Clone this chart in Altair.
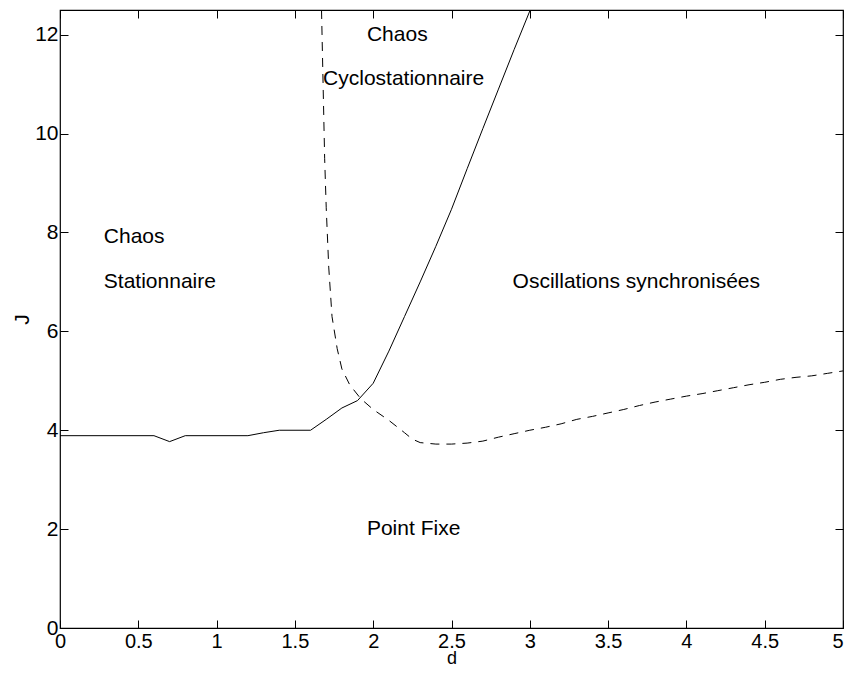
import altair as alt
import pandas as pd

# Solid boundary
solid_d = [0.0, 0.6, 0.7, 0.8, 1.2, 1.3, 1.4, 1.6, 1.7, 1.8, 1.9, 2.0, 2.1, 2.2,
           2.3, 2.4, 2.5, 2.6, 2.7, 2.8, 2.9, 3.0]
solid_J = [3.89, 3.89, 3.77, 3.89, 3.89, 3.95, 4.0, 4.0, 4.22, 4.45, 4.6, 4.95,
           5.6, 6.3, 7.0, 7.72, 8.47, 9.29, 10.1, 10.9, 11.7, 12.48]

# Dashed boundary
dashed_d = [1.67, 1.68, 1.69, 1.70, 1.716, 1.737, 1.77, 1.80, 1.85, 1.92, 2.0,
            2.1, 2.2, 2.25, 2.3, 2.4, 2.5, 2.6, 2.7, 2.8, 2.9, 3.0, 3.1, 3.2,
            3.3, 3.4, 3.5, 3.6, 3.7, 3.8, 3.9, 4.0, 4.1, 4.2, 4.3, 4.4, 4.5,
            4.6, 4.7, 4.8, 4.9, 5.0]
dashed_J = [12.5, 11.0, 9.5, 8.5, 7.3, 6.3, 5.65, 5.24, 4.92, 4.64, 4.42,
            4.2, 3.95, 3.82, 3.75, 3.72, 3.72, 3.74, 3.78, 3.86, 3.93, 4.0,
            4.06, 4.13, 4.22, 4.28, 4.35, 4.42, 4.5, 4.57, 4.63, 4.69, 4.74,
            4.8, 4.86, 4.92, 4.97, 5.03, 5.07, 5.1, 5.15, 5.2]

# Region labels
text_labels = ["Chaos", "Stationnaire", "Chaos", "Cyclostationnaire",
               "Oscillations synchronisées", "Point Fixe"]
text_d = [0.28, 0.28, 1.96, 1.68, 2.89, 1.96]
text_J = [7.9, 7.0, 12.0, 11.1, 7.0, 2.0]

x_ticks = [0, 0.5, 1, 1.5, 2, 2.5, 3, 3.5, 4, 4.5, 5]
y_ticks = [0, 2, 4, 6, 8, 10, 12]

df_solid = pd.DataFrame({"d": solid_d, "J": solid_J, "i": range(len(solid_d))})
df_dashed = pd.DataFrame({"d": dashed_d, "J": dashed_J, "i": range(len(dashed_d))})
df_text = pd.DataFrame({"d": text_d, "J": text_J, "label": text_labels})

FONT = "Liberation Sans"
xscale = alt.Scale(domain=[0, 5], nice=False, zero=False)
yscale = alt.Scale(domain=[0, 12.5], nice=False, zero=False)

common = dict(domain=False, grid=False, tickSize=8, offset=-8, tickColor="black",
              tickWidth=1, labelFont=FONT, labelColor="black",
              titleFont=FONT, titleFontWeight="normal", titleColor="black",
              labelFlush=False, labelOverlap=False)

solid = alt.Chart(df_solid).mark_line(color="black", strokeWidth=1, clip=True).encode(
    x=alt.X("d:Q", scale=xscale,
            axis=alt.Axis(orient="bottom", values=x_ticks, format="~g", title="d",
                          labelPadding=3, labelFontSize=20, titleFontSize=18,
                          labelAlign=alt.condition("datum.value == 5",
                                                   alt.value("right"),
                                                   alt.value("center")),
                          titleBaseline="alphabetic", titleY=43, **common)),
    y=alt.Y("J:Q", scale=yscale,
            axis=alt.Axis(orient="left", values=y_ticks, format="~g", title="J",
                          labelPadding=2, labelFontSize=21, titleFontSize=21,
                          titleAngle=270, titleBaseline="alphabetic", titleX=-40,
                          **common)),
    order="i:Q",
)

dashed = alt.Chart(df_dashed).mark_line(color="black", strokeWidth=1,
                                        strokeDash=[9, 7], clip=True).encode(
    x=alt.X("d:Q", scale=xscale,
            axis=alt.Axis(orient="top", values=x_ticks, labels=False, title=None,
                          domain=False, grid=False, tickSize=8, offset=-8,
                          tickColor="black", tickWidth=1)),
    y=alt.Y("J:Q", scale=yscale,
            axis=alt.Axis(orient="right", values=y_ticks, labels=False, title=None,
                          domain=False, grid=False, tickSize=8, offset=-8,
                          tickColor="black", tickWidth=1)),
    order="i:Q",
)

text = alt.Chart(df_text).mark_text(align="left", baseline="middle", font=FONT,
                                    fontSize=21, color="black").encode(
    x=alt.X("d:Q", scale=xscale, axis=None),
    y=alt.Y("J:Q", scale=yscale, axis=None),
    text="label:N",
)

chart = alt.layer(solid, dashed, text).resolve_axis(
    x="independent", y="independent"
).properties(
    width=783, height=618,
    autosize=alt.AutoSizeParams(type="none"),
    padding={"left": 52, "top": 2, "right": 1, "bottom": 37},
).configure_view(stroke="black", strokeWidth=1.2)

chart.save("out.html", embed_options={"renderer": "svg", "actions": False})
